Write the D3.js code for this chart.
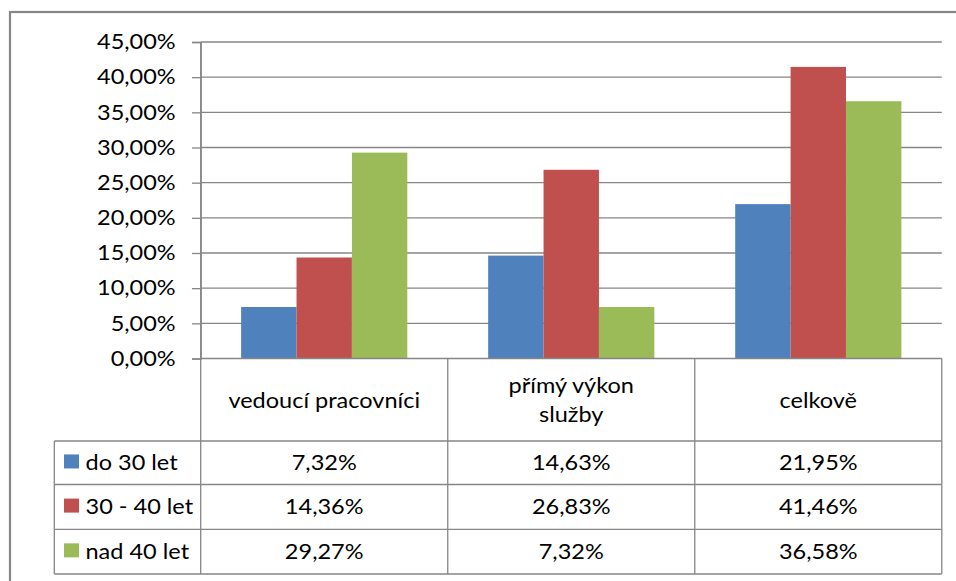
<!DOCTYPE html>
<html>
<head>
<meta charset="utf-8">
<script src="https://cdn.jsdelivr.net/npm/d3@7"></script>
<style>
  html, body { margin: 0; padding: 0; background: #fff; }
  svg { display: block; }
  text { font-family: Lato, "Open Sans", sans-serif; fill: #000; }
</style>
</head>
<body>
<svg id="chart" width="956" height="581"></svg>
<script>
// Věkové skupiny zaměstnanců podle typu práce
const categories = [["vedoucí pracovníci"], ["přímý výkon", "služby"], ["celkově"]];
const seriesNames = ["do 30 let", "30 - 40 let", "nad 40 let"];
const seriesColors = ["#4F81BD", "#C0504D", "#9BBB59"];
const doTricetiLet = [0.0732, 0.1463, 0.2195];
const tricetAzCtyricetLet = [0.1436, 0.2683, 0.4146];
const nadCtyricetLet = [0.2927, 0.0732, 0.3658];
const yTicks = [0, 0.05, 0.10, 0.15, 0.20, 0.25, 0.30, 0.35, 0.40, 0.45];

const series = [doTricetiLet, tricetAzCtyricetLet, nadCtyricetLet];

const cz = d3.formatLocale({ decimal: ",", thousands: " ", grouping: [3], currency: ["", " Kč"] });
const pct = cz.format(".2%");

const svg = d3.select("#chart");
const gridColor = "#868686";
const textScale = 1.12;
const fontSize = 21;

// frame of the chart area
svg.append("rect")
  .attr("x", 10).attr("y", 12)
  .attr("width", 960).attr("height", 600)
  .attr("fill", "none").attr("stroke", gridColor).attr("stroke-width", 2.2);

const plotLeft = 200.7, plotRight = 941.8, plotTop = 42, plotBottom = 358.5;

const x = d3.scaleBand()
  .domain(d3.range(categories.length))
  .range([plotLeft, plotRight])
  .paddingInner(0).paddingOuter(0);

const xInner = d3.scaleBand()
  .domain(d3.range(series.length))
  .range([0, x.bandwidth()])
  .paddingOuter(0.73).paddingInner(0);

const y = d3.scaleLinear().domain([0, 0.45]).range([plotBottom, plotTop]);

// horizontal gridlines
svg.append("g")
  .selectAll("line")
  .data(yTicks.filter(t => t > 0))
  .join("line")
  .attr("x1", plotLeft).attr("x2", plotRight)
  .attr("y1", d => y(d)).attr("y2", d => y(d))
  .attr("stroke", gridColor).attr("stroke-width", 1.3);

// bars
const groups = svg.append("g")
  .selectAll("g")
  .data(categories)
  .join("g")
  .attr("transform", (d, i) => `translate(${x(i)},0)`);

groups.selectAll("rect")
  .data((d, i) => series.map((s, k) => ({ k, v: s[i] })))
  .join("rect")
  .attr("x", d => xInner(d.k))
  .attr("width", xInner.bandwidth())
  .attr("y", d => y(d.v))
  .attr("height", d => y(0) - y(d.v))
  .attr("fill", d => seriesColors[d.k]);

// value axis
const yAxis = d3.axisLeft(y)
  .tickValues(yTicks)
  .tickFormat(pct)
  .tickSize(8.7)
  .tickPadding(16.3);

const axisG = svg.append("g")
  .attr("transform", `translate(${plotLeft},0)`)
  .call(yAxis);
axisG.select(".domain").attr("stroke", gridColor).attr("stroke-width", 1.3);
axisG.selectAll(".tick line").attr("stroke", gridColor).attr("stroke-width", 1.3);
axisG.selectAll(".tick text")
  .attr("font-size", fontSize)
  .attr("font-family", "Lato, sans-serif")
  .attr("fill", "#000")
  .attr("dy", "0.32em")
  .attr("transform", function () {
    const tx = +d3.select(this).attr("x");
    return `translate(${tx},0) scale(${textScale},1) translate(${-tx},0)`;
  });

// data table
const tableLeft = 54.3;
const headerBottom = 441;
const rowBottoms = [484.5, 529.3, 574];
const table = svg.append("g");

function hline(x1, x2, yy) {
  table.append("line").attr("x1", x1).attr("x2", x2).attr("y1", yy).attr("y2", yy)
    .attr("stroke", gridColor).attr("stroke-width", 1.3);
}
function vline(xx, y1, y2) {
  table.append("line").attr("x1", xx).attr("x2", xx).attr("y1", y1).attr("y2", y2)
    .attr("stroke", gridColor).attr("stroke-width", 1.3);
}
function label(xx, yy, str, anchor) {
  table.append("text")
    .attr("transform", `translate(${xx},${yy}) scale(${textScale},1)`)
    .attr("text-anchor", anchor)
    .attr("font-size", fontSize)
    .text(str);
}

// category header row (below the bars)
hline(plotLeft, plotRight, plotBottom);
categories.forEach((c, i) => {
  const cx = x(i) + x.bandwidth() / 2;
  const mid = 407.5;
  const lh = 29;
  c.forEach((line, j) => {
    label(cx, mid + (j - (c.length - 1) / 2) * lh, line, "middle");
  });
});

// series rows
const rowTops = [headerBottom, rowBottoms[0], rowBottoms[1]];
hline(tableLeft, plotRight, headerBottom);
rowBottoms.forEach(b => hline(tableLeft, plotRight, b));
vline(tableLeft, headerBottom, rowBottoms[2]);
vline(plotLeft, plotTop, rowBottoms[2]);
d3.range(categories.length).forEach(i => vline(x(i) + x.bandwidth(), plotBottom, rowBottoms[2]));

series.forEach((s, k) => {
  const top = rowTops[k], bottom = rowBottoms[k];
  const mid = (top + bottom) / 2;
  table.append("rect")
    .attr("x", 64).attr("y", mid - 8.3)
    .attr("width", 15).attr("height", 14)
    .attr("fill", seriesColors[k]);
  label(85.5, mid + 7, seriesNames[k], "start");
  s.forEach((v, i) => {
    label(x(i) + x.bandwidth() / 2, mid + 7.5, pct(v), "middle");
  });
});
</script>
</body>
</html>
